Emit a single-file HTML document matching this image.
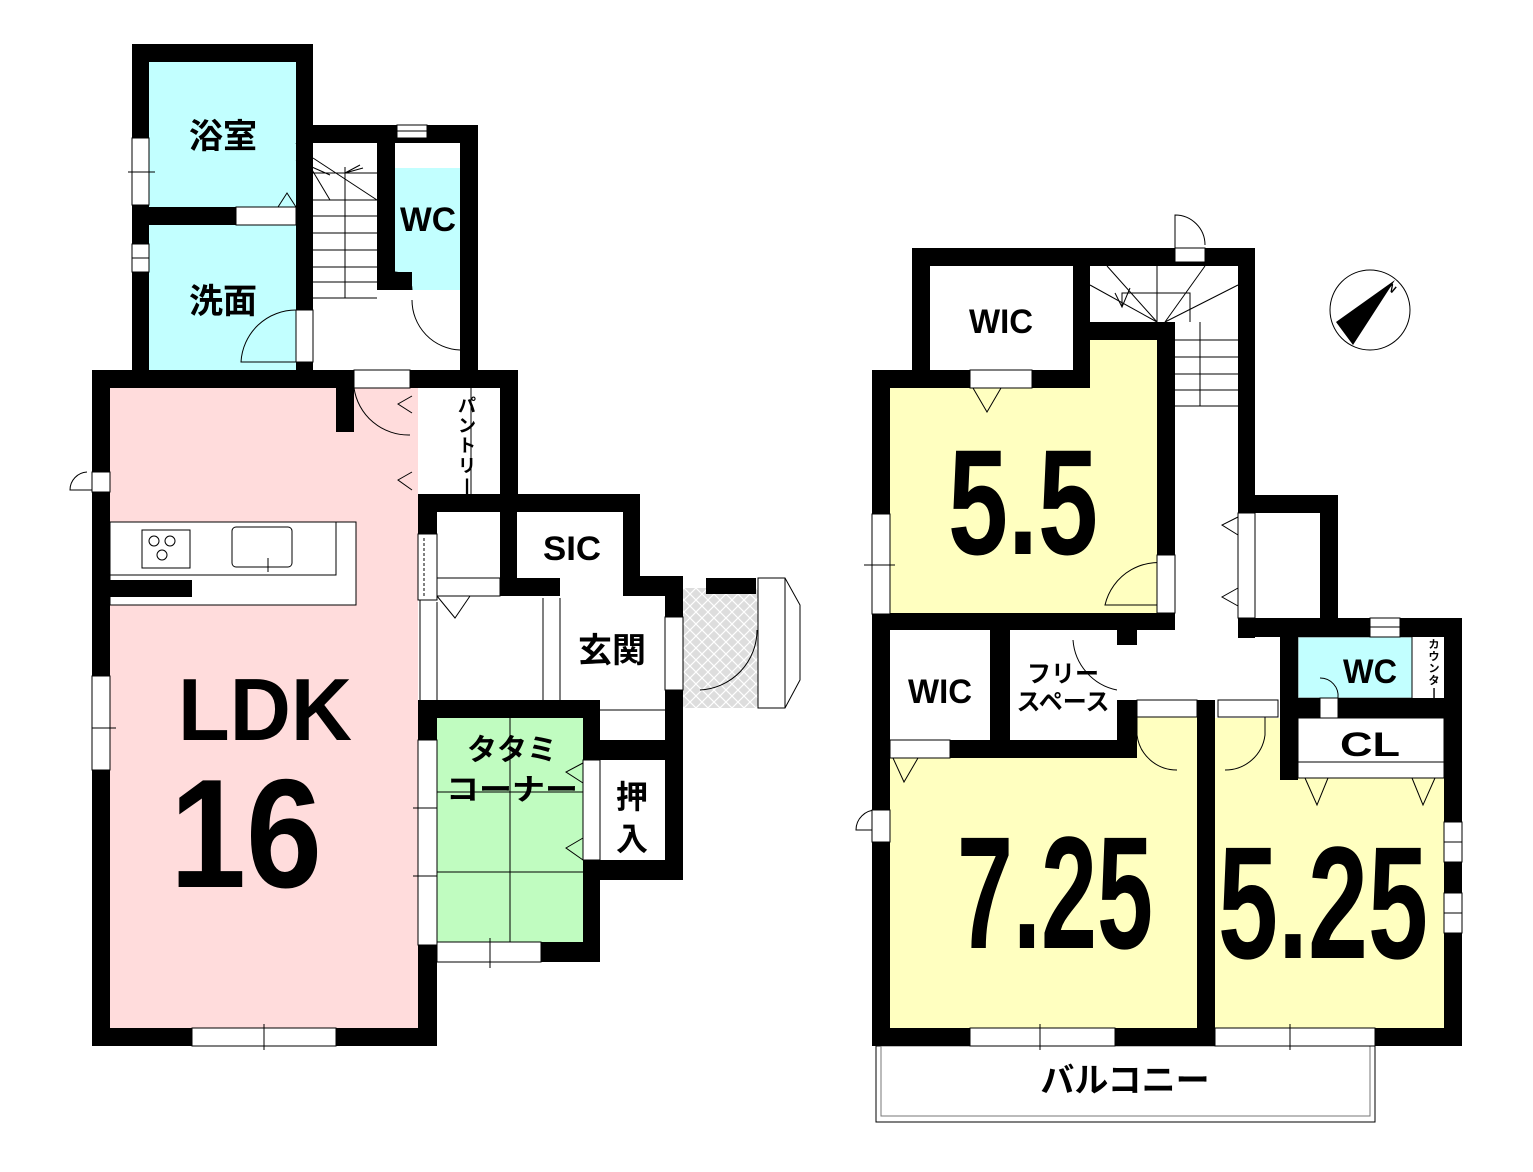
<!DOCTYPE html>
<html><head><meta charset="utf-8"><style>
html,body{margin:0;padding:0;background:#fff}
svg{display:block}
text{font-family:"Liberation Sans","Noto Sans CJK JP",sans-serif;font-weight:bold;fill:#000}
</style></head><body>
<svg width="1533" height="1172" viewBox="0 0 1533 1172" xmlns="http://www.w3.org/2000/svg">
<defs>
<pattern id="hatch" width="12" height="12" patternUnits="userSpaceOnUse">
<rect width="12" height="12" fill="#ddd"/>
<path d="M0 0L12 12M12 0L0 12" stroke="#fff" stroke-width="1.2"/>
</pattern>
</defs>
<!-- ========== LEFT BUILDING ========== -->
<rect x="149" y="62" width="147" height="146" fill="#c2ffff"/>
<rect x="149" y="225" width="147" height="145" fill="#c2ffff"/>
<rect x="395" y="168" width="65" height="122" fill="#c2ffff"/>
<rect x="110" y="388" width="308" height="640" fill="#ffdcdc"/>
<rect x="437" y="718" width="146" height="224" fill="#c0fcc0"/>
<rect x="683" y="588" width="75" height="120" fill="url(#hatch)"/>
<path d="M758 578 L785 578 L800 605 L800 680 L785 708 L758 708 Z" fill="#fff" stroke="#000"/>
<line x1="785" y1="578" x2="785" y2="708" stroke="#000"/>
<g stroke="#000" stroke-width="1" fill="none">
<line x1="313" y1="173" x2="377" y2="173"/>
<line x1="313" y1="200" x2="377" y2="200"/>
<line x1="313" y1="216" x2="377" y2="216"/>
<line x1="313" y1="233" x2="377" y2="233"/>
<line x1="313" y1="250" x2="377" y2="250"/>
<line x1="313" y1="267" x2="377" y2="267"/>
<line x1="313" y1="282" x2="377" y2="282"/>
<line x1="313" y1="298" x2="377" y2="298"/>
<line x1="345" y1="167" x2="345" y2="298"/>
<line x1="296" y1="143" x2="330" y2="200"/>
<line x1="296" y1="160" x2="330" y2="175"/>
<line x1="313" y1="158" x2="377" y2="200"/>
<path d="M345 173 L360 165 M345 173 L363 168"/>
<path d="M296 310 A55 55 0 0 0 241 362 L296 362"/>
<path d="M412 300 A50 50 0 0 0 460 350"/>
<path d="M395 272 A18 18 0 0 1 412 290"/>
<path d="M354 388 A55 55 0 0 0 410 435"/>
<path d="M757 630 A60 60 0 0 1 700 690"/>
<path d="M278 207 L287 193 L296 207"/>
<path d="M412 396 L398 404 L412 413"/>
<path d="M412 472 L398 480 L412 490"/>
<path d="M437 596 L455 618 L470 596"/>
<path d="M583 763 L566 772 L583 783"/>
<path d="M583 838 L566 848 L583 860"/>
<path d="M87 472 A18 18 0 0 0 70 490 L92 490"/>
</g>
<rect x="110" y="522" width="246" height="83" fill="#fff" stroke="#000"/>
<rect x="110" y="522" width="226" height="53" fill="#fff" stroke="#000"/>
<rect x="142" y="530" width="48" height="38" fill="#fff" stroke="#000"/>
<circle cx="154" cy="541" r="5" fill="none" stroke="#000"/>
<circle cx="170" cy="541" r="5" fill="none" stroke="#000"/>
<circle cx="162" cy="555" r="5" fill="none" stroke="#000"/>
<rect x="232" y="527" width="60" height="40" rx="4" fill="#fff" stroke="#000"/>
<line x1="268" y1="558" x2="268" y2="572" stroke="#000"/>
<g stroke="#000" stroke-width="1">
<line x1="510" y1="718" x2="510" y2="942"/>
<line x1="437" y1="792" x2="583" y2="792"/>
<line x1="437" y1="872" x2="583" y2="872"/>
<line x1="437" y1="602" x2="437" y2="700"/>
<line x1="543" y1="598" x2="543" y2="700"/>
<line x1="560" y1="598" x2="560" y2="700"/>
<line x1="437" y1="578" x2="500" y2="578"/>
<line x1="560" y1="710" x2="665" y2="710"/>
<line x1="420" y1="597" x2="420" y2="720"/>
<line x1="471" y1="388" x2="471" y2="494"/>
</g>
<g fill="#000">
<rect x="132" y="44" width="181" height="18"/>
<rect x="132" y="44" width="17" height="326"/>
<rect x="296" y="44" width="17" height="326"/>
<rect x="132" y="207" width="104" height="18"/>
<rect x="296" y="125" width="182" height="18"/>
<rect x="377" y="125" width="18" height="165"/>
<rect x="377" y="272" width="35" height="18"/>
<rect x="460" y="125" width="18" height="248"/>
<rect x="92" y="370" width="426" height="18"/>
<rect x="92" y="370" width="18" height="676"/>
<rect x="336" y="388" width="18" height="44"/>
<rect x="500" y="370" width="18" height="142"/>
<rect x="92" y="1028" width="345" height="18"/>
<rect x="418" y="494" width="222" height="18"/>
<rect x="418" y="494" width="19" height="102"/>
<rect x="418" y="700" width="182" height="18"/>
<rect x="418" y="700" width="19" height="346"/>
<rect x="500" y="494" width="17" height="102"/>
<rect x="500" y="578" width="60" height="18"/>
<rect x="623" y="494" width="17" height="100"/>
<rect x="623" y="576" width="60" height="20"/>
<rect x="665" y="576" width="18" height="184"/>
<rect x="583" y="700" width="17" height="262"/>
<rect x="437" y="942" width="163" height="20"/>
<rect x="583" y="740" width="100" height="20"/>
<rect x="583" y="860" width="100" height="20"/>
<rect x="665" y="740" width="18" height="140"/>
<rect x="110" y="580" width="82" height="17"/>
<rect x="706" y="578" width="50" height="16"/>
</g>
<g fill="#fff" stroke="#000" stroke-width="1">
<rect x="132" y="138" width="17" height="67"/>
<rect x="132" y="244" width="17" height="28"/>
<rect x="236" y="207" width="60" height="18"/>
<rect x="296" y="310" width="17" height="52"/>
<rect x="397" y="125" width="30" height="13"/>
<rect x="395" y="290" width="65" height="10" stroke="none"/>
<rect x="354" y="370" width="56" height="18"/>
<rect x="92" y="472" width="18" height="20"/>
<rect x="92" y="676" width="18" height="94"/>
<rect x="192" y="1028" width="144" height="18"/>
<rect x="418" y="740" width="19" height="205"/>
<rect x="437" y="942" width="104" height="20"/>
<rect x="418" y="534" width="19" height="66"/>
<rect x="665" y="617" width="18" height="73"/>
<rect x="583" y="760" width="17" height="100"/>
<rect x="437" y="578" width="63" height="18"/>
</g>
<g stroke="#000">
<line x1="128" y1="172" x2="155" y2="172"/>
<line x1="92" y1="728" x2="116" y2="728"/>
<line x1="264" y1="1024" x2="264" y2="1050"/>
<line x1="413" y1="808" x2="437" y2="808"/>
<line x1="413" y1="876" x2="437" y2="876"/>
<line x1="490" y1="938" x2="490" y2="968"/>
<line x1="397" y1="131" x2="427" y2="131"/>
<line x1="132" y1="258" x2="149" y2="258"/>
</g>
<line x1="424" y1="538" x2="424" y2="598" stroke="#000" stroke-dasharray="3,2"/>
<!-- ========== RIGHT BUILDING ========== -->
<rect x="890" y="388" width="267" height="225" fill="#ffffc0"/>
<rect x="1090" y="340" width="67" height="50" fill="#ffffc0"/>
<rect x="890" y="758" width="307" height="270" fill="#ffffc0"/>
<rect x="1137" y="717" width="60" height="41" fill="#ffffc0"/>
<rect x="1215" y="718" width="229" height="310" fill="#ffffc0"/>
<rect x="1298" y="718" width="146" height="60" fill="#fff" stroke="#000"/>
<rect x="1298" y="637" width="114" height="61" fill="#c2ffff" stroke="#777"/>
<g stroke="#000" fill="none">
<line x1="1175" y1="340" x2="1238" y2="340"/>
<line x1="1175" y1="357" x2="1238" y2="357"/>
<line x1="1175" y1="374" x2="1238" y2="374"/>
<line x1="1175" y1="390" x2="1238" y2="390"/>
<line x1="1175" y1="406" x2="1238" y2="406"/>
<line x1="1200" y1="322" x2="1200" y2="406"/>
<line x1="1157" y1="266" x2="1157" y2="322"/>
<line x1="1107" y1="266" x2="1157" y2="322"/>
<line x1="1090" y1="285" x2="1157" y2="322"/>
<line x1="1205" y1="266" x2="1165" y2="322"/>
<line x1="1238" y1="285" x2="1165" y2="322"/>
<path d="M1122 307 L1122 293 L1190 293 L1190 322"/>
<path d="M1115 293 L1122 307 L1130 288"/>
<path d="M1175 262 L1175 215 A30 30 0 0 1 1205 245"/>
<path d="M1175 565 A55 55 0 0 0 1105 605 L1157 605"/>
<path d="M1137 717 L1137 735 A40 40 0 0 0 1177 770"/>
<path d="M1265 717 L1265 735 A40 40 0 0 1 1225 770"/>
<path d="M1073 640 A55 55 0 0 0 1117 690"/>
<path d="M1320 678 A18 18 0 0 1 1338 698"/>
<path d="M876 810 A20 20 0 0 0 856 830 L876 830"/>
<path d="M973 388 L987 412 L1001 388"/>
<path d="M1238 517 L1222 525 L1238 535"/>
<path d="M1238 588 L1222 597 L1238 606"/>
<path d="M893 758 L904 782 L918 758"/>
<path d="M1305 778 L1317 805 L1328 778"/>
<path d="M1412 778 L1423 805 L1435 778"/>
<line x1="1298" y1="762" x2="1444" y2="762"/>
<line x1="1412" y1="637" x2="1412" y2="698"/>
</g>
<rect x="876" y="1046" width="499" height="76" fill="none" stroke="#000"/>
<rect x="881" y="1046" width="489" height="70" fill="none" stroke="#777"/>
<g fill="#000">
<rect x="912" y="248" width="343" height="18"/>
<rect x="912" y="248" width="18" height="140"/>
<rect x="1073" y="248" width="17" height="140"/>
<rect x="872" y="370" width="218" height="18"/>
<rect x="872" y="370" width="18" height="676"/>
<rect x="1090" y="322" width="85" height="18"/>
<rect x="1157" y="322" width="18" height="308"/>
<rect x="872" y="613" width="303" height="17"/>
<rect x="1238" y="248" width="17" height="390"/>
<rect x="1238" y="495" width="100" height="18"/>
<rect x="1320" y="495" width="18" height="142"/>
<rect x="1238" y="618" width="224" height="19"/>
<rect x="1444" y="618" width="18" height="428"/>
<rect x="1280" y="618" width="18" height="162"/>
<rect x="1280" y="698" width="182" height="20"/>
<rect x="990" y="630" width="20" height="128"/>
<rect x="1117" y="630" width="20" height="128"/>
<rect x="890" y="740" width="247" height="18"/>
<rect x="1137" y="700" width="78" height="17"/>
<rect x="1197" y="700" width="18" height="346"/>
<rect x="872" y="1028" width="590" height="18"/>
</g>
<g fill="#fff" stroke="#000" stroke-width="1">
<rect x="1175" y="248" width="30" height="14"/>
<rect x="970" y="370" width="62" height="18"/>
<rect x="872" y="514" width="18" height="100"/>
<rect x="1157" y="555" width="18" height="58"/>
<rect x="1238" y="513" width="17" height="105"/>
<rect x="1117" y="645" width="20" height="55" stroke="none"/>
<rect x="1137" y="700" width="60" height="17"/>
<rect x="1218" y="700" width="60" height="17"/>
<rect x="1370" y="618" width="30" height="19"/>
<rect x="1320" y="698" width="18" height="20"/>
<rect x="890" y="740" width="60" height="18"/>
<rect x="872" y="810" width="18" height="32"/>
<rect x="1444" y="822" width="18" height="40"/>
<rect x="1444" y="893" width="18" height="40"/>
<rect x="970" y="1028" width="145" height="18"/>
<rect x="1215" y="1028" width="160" height="18"/>
</g>
<g stroke="#000">
<line x1="864" y1="565" x2="895" y2="565"/>
<line x1="1040" y1="1024" x2="1040" y2="1050"/>
<line x1="1290" y1="1024" x2="1290" y2="1050"/>
<line x1="1370" y1="627" x2="1400" y2="627"/>
<line x1="1444" y1="842" x2="1462" y2="842"/>
<line x1="1444" y1="913" x2="1462" y2="913"/>
</g>
<circle cx="1370" cy="310" r="40" fill="#fff" stroke="#000"/>
<path d="M1395 280 L1336 322 L1353 345 Z" fill="#000"/>
<text x="1388" y="292" font-size="11" transform="rotate(40 1392 288)">N</text>
<!-- ========== LABELS ========== -->
<text x="223" y="148" font-size="34" text-anchor="middle">浴室</text>
<text x="223" y="313" font-size="34" text-anchor="middle">洗面</text>
<text x="428" y="231" font-size="34" text-anchor="middle" textLength="56" lengthAdjust="spacingAndGlyphs">WC</text>
<text x="572" y="560" font-size="34" text-anchor="middle" textLength="58" lengthAdjust="spacingAndGlyphs">SIC</text>
<text x="612" y="662" font-size="34" text-anchor="middle">玄関</text>
<text x="512" y="760" font-size="30" text-anchor="middle">タタミ</text>
<text x="512" y="800" font-size="30" text-anchor="middle" textLength="132" lengthAdjust="spacingAndGlyphs">コーナー</text>
<text x="632" y="808" font-size="32" text-anchor="middle">押</text>
<text x="632" y="850" font-size="32" text-anchor="middle">入</text>
<g font-size="18">
<text x="467" y="412" text-anchor="middle">パ</text>
<text x="467" y="432" text-anchor="middle">ン</text>
<text x="467" y="452" text-anchor="middle">ト</text>
<text x="467" y="472" text-anchor="middle">リ</text>
<text x="467" y="492" text-anchor="middle">|</text>
</g>
<text x="265" y="740" font-size="88" text-anchor="middle" textLength="174" lengthAdjust="spacingAndGlyphs">LDK</text>
<text x="246" y="887" font-size="155" text-anchor="middle" textLength="152" lengthAdjust="spacingAndGlyphs">16</text>
<text x="1001" y="333" font-size="34" text-anchor="middle" textLength="64" lengthAdjust="spacingAndGlyphs">WIC</text>
<text x="940" y="703" font-size="34" text-anchor="middle" textLength="64" lengthAdjust="spacingAndGlyphs">WIC</text>
<text x="1063" y="682" font-size="24" text-anchor="middle">フリー</text>
<text x="1063" y="710" font-size="24" text-anchor="middle">スペース</text>
<text x="1370" y="683" font-size="34" text-anchor="middle" textLength="54" lengthAdjust="spacingAndGlyphs">WC</text>
<text x="1370" y="756" font-size="34" text-anchor="middle" textLength="60" lengthAdjust="spacingAndGlyphs">CL</text>
<g font-size="11">
<text x="1434" y="648" text-anchor="middle">カ</text>
<text x="1434" y="660" text-anchor="middle">ウ</text>
<text x="1434" y="672" text-anchor="middle">ン</text>
<text x="1434" y="684" text-anchor="middle">タ</text>
<text x="1434" y="696" text-anchor="middle">|</text>
</g>
<text x="1023" y="554" font-size="150" text-anchor="middle" textLength="150" lengthAdjust="spacingAndGlyphs">5.5</text>
<text x="1055" y="948" font-size="160" text-anchor="middle" textLength="196" lengthAdjust="spacingAndGlyphs">7.25</text>
<text x="1323" y="958" font-size="160" text-anchor="middle" textLength="210" lengthAdjust="spacingAndGlyphs">5.25</text>
<text x="1125" y="1092" font-size="34" text-anchor="middle">バルコニー</text>
</svg>
</body></html>
